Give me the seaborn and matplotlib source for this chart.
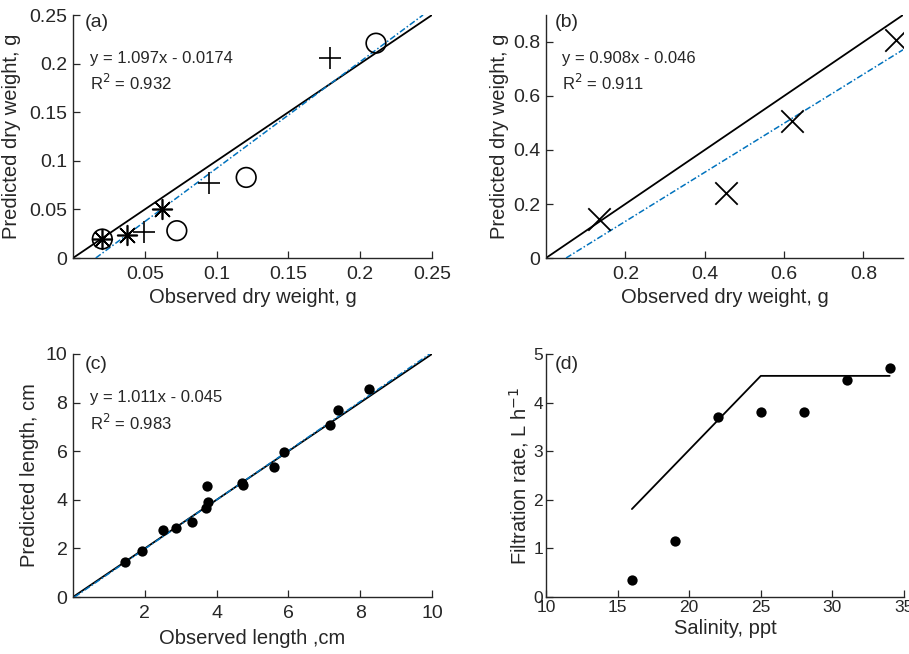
import matplotlib
matplotlib.use("Agg")
import matplotlib.pyplot as plt
import seaborn as sns
import numpy as np
import pandas as pd

sns.set_theme(style="ticks")
plt.rcParams['font.family'] = ['Liberation Sans', 'DejaVu Sans']

# ---------------- data ----------------
# panel (a): observed vs predicted dry weight (three groups)
a_circle_obs = [0.0204, 0.0723, 0.1206, 0.211]
a_circle_pred = [0.0195, 0.0281, 0.0829, 0.221]
a_plus_obs = [0.0495, 0.095, 0.1787]
a_plus_pred = [0.0267, 0.077, 0.206]
a_star_obs = [0.0204, 0.0374, 0.062]
a_star_pred = [0.0195, 0.0233, 0.0507]
a_fit = (1.097, -0.0174)

# panel (b)
b_obs = [0.133, 0.455, 0.620, 0.882]
b_pred = [0.143, 0.240, 0.509, 0.807]
b_fit = (0.908, -0.046)

# panel (c)
c_obs = [1.45, 1.92, 2.52, 2.87, 3.31, 3.73, 3.71, 3.76, 4.71, 4.74, 5.60, 5.87, 7.17, 7.39, 8.24]
c_pred = [1.44, 1.89, 2.76, 2.83, 3.07, 4.58, 3.67, 3.92, 4.70, 4.60, 5.34, 5.98, 7.08, 7.71, 8.55]
c_fit = (1.011, -0.045)

# panel (d)
d_sal = [16, 19, 22, 25, 28, 31, 34]
d_rate = [0.34, 1.16, 3.71, 3.80, 3.80, 4.46, 4.71]
d_model_sal = [16, 25, 34]
d_model_rate = [1.81, 4.55, 4.55]

BLUE = "#0072BD"
W, H = 909, 654
fig = plt.figure(figsize=(W / 100, H / 100), dpi=100)

def add_ax(l, t, r, b):
    return fig.add_axes([l / W, 1 - b / H, (r - l) / W, (b - t) / H])

axA = add_ax(73, 15, 432, 258)
axB = add_ax(546, 15, 903, 258)
axC = add_ax(73, 354, 432, 597)
axD = add_ax(546, 354, 904, 597)

def style(ax, fs=14):
    for s in ["top", "right"]:
        ax.spines[s].set_visible(False)
    for s in ["left", "bottom"]:
        ax.spines[s].set_linewidth(1.0)
        ax.spines[s].set_color("#262626")
    ax.tick_params(direction="in", length=5, width=0.9, labelsize=fs,
                   colors="#262626", labelcolor="#262626", pad=4)
    ax.tick_params(axis="x", pad=6)

def fit_line(ax, fit, lo, hi):
    m, c = fit
    x0 = max(lo, (lo - c) / m)
    x1 = min(hi, (hi - c) / m)
    xs = np.array([x0, x1])
    sns.lineplot(x=xs, y=m * xs + c, ax=ax, color=BLUE, lw=1.1,
                 linestyle=(0, (4, 1.5, 1, 1.5)), zorder=3)

def one2one(ax, lo, hi):
    xs = np.array([lo, hi])
    sns.lineplot(x=xs, y=xs, ax=ax, color="black", lw=1.3, zorder=2)

# ---------- (a) ----------
ax = axA
one2one(ax, 0, 0.25)
fit_line(ax, a_fit, 0, 0.25)
sns.scatterplot(x=a_circle_obs, y=a_circle_pred, ax=ax, marker="o", s=200,
                facecolor="none", edgecolor="black", linewidth=1.2, zorder=4)
sns.scatterplot(x=a_plus_obs, y=a_plus_pred, ax=ax, marker="+", s=260,
                color="black", linewidth=1.2, zorder=4)
sns.scatterplot(x=a_star_obs, y=a_star_pred, ax=ax, marker=(8, 2, 0), s=200,
                color="black", linewidth=1.2, zorder=4)
ax.set_xlim(0, 0.25); ax.set_ylim(0, 0.25)
ax.set_xticks([0.05, 0.1, 0.15, 0.2, 0.25])
ax.set_xticklabels(["0.05", "0.1", "0.15", "0.2", "0.25"])
ax.set_yticks([0, 0.05, 0.1, 0.15, 0.2, 0.25])
ax.set_yticklabels(["0", "0.05", "0.1", "0.15", "0.2", "0.25"])
ax.set_xlabel("Observed dry weight, g", fontsize=14.5, labelpad=3)
ax.set_ylabel("Predicted dry weight, g", fontsize=14.5, labelpad=6)
style(ax)
ax.text(0.032, 0.97, "(a)", transform=ax.transAxes, fontsize=14, va="center")
ax.text(0.047, 0.82, "y = 1.097x - 0.0174", transform=ax.transAxes, fontsize=12, va="center")
ax.text(0.047, 0.72, "R$^2$ = 0.932", transform=ax.transAxes, fontsize=12, va="center")

# ---------- (b) ----------
ax = axB
one2one(ax, 0, 0.9)
fit_line(ax, b_fit, 0, 0.9)
sns.scatterplot(x=b_obs, y=b_pred, ax=ax, marker="x", s=260,
                color="black", linewidth=1.3, zorder=4)
ax.set_xlim(0, 0.9); ax.set_ylim(0, 0.9)
ax.set_xticks([0.2, 0.4, 0.6, 0.8])
ax.set_xticklabels(["0.2", "0.4", "0.6", "0.8"])
ax.set_yticks([0, 0.2, 0.4, 0.6, 0.8])
ax.set_yticklabels(["0", "0.2", "0.4", "0.6", "0.8"])
ax.set_xlabel("Observed dry weight, g", fontsize=14.5, labelpad=3)
ax.set_ylabel("Predicted dry weight, g", fontsize=14.5, labelpad=3)
style(ax)
ax.text(0.024, 0.97, "(b)", transform=ax.transAxes, fontsize=14, va="center")
ax.text(0.045, 0.82, "y = 0.908x - 0.046", transform=ax.transAxes, fontsize=12, va="center")
ax.text(0.045, 0.72, "R$^2$ = 0.911", transform=ax.transAxes, fontsize=12, va="center")

# ---------- (c) ----------
ax = axC
one2one(ax, 0, 10)
fit_line(ax, c_fit, 0, 10)
sns.scatterplot(x=c_obs, y=c_pred, ax=ax, marker="o", s=55,
                color="black", edgecolor="black", linewidth=0, zorder=4)
ax.set_xlim(0, 10); ax.set_ylim(0, 10)
ax.set_xticks([2, 4, 6, 8, 10])
ax.set_yticks([0, 2, 4, 6, 8, 10])
ax.set_xlabel("Observed length ,cm", fontsize=14.5, labelpad=5)
ax.set_ylabel("Predicted length, cm", fontsize=14.5, labelpad=5)
style(ax)
ax.text(0.032, 0.955, "(c)", transform=ax.transAxes, fontsize=14, va="center")
ax.text(0.047, 0.82, "y = 1.011x - 0.045", transform=ax.transAxes, fontsize=12, va="center")
ax.text(0.047, 0.715, "R$^2$ = 0.983", transform=ax.transAxes, fontsize=12, va="center")

# ---------- (d) ----------
ax = axD
sns.lineplot(x=d_model_sal, y=d_model_rate, ax=ax, color="black", lw=1.3, zorder=2)
sns.scatterplot(x=d_sal, y=d_rate, ax=ax, marker="o", s=55,
                color="black", edgecolor="black", linewidth=0, zorder=4)
ax.set_xlim(10, 35); ax.set_ylim(0, 5)
ax.set_xticks([10, 15, 20, 25, 30, 35])
ax.set_yticks([0, 1, 2, 3, 4, 5])
ax.set_xlabel("Salinity, ppt", fontsize=14.5, labelpad=3)
ax.set_ylabel("Filtration rate, L h$^{-1}$", fontsize=14.5, labelpad=2)
style(ax, fs=12.5)
ax.tick_params(axis="x", pad=2)
ax.tick_params(axis="y", pad=2)
ax.text(0.024, 0.955, "(d)", transform=ax.transAxes, fontsize=14, va="center")

fig.savefig("out.png", dpi=100)
